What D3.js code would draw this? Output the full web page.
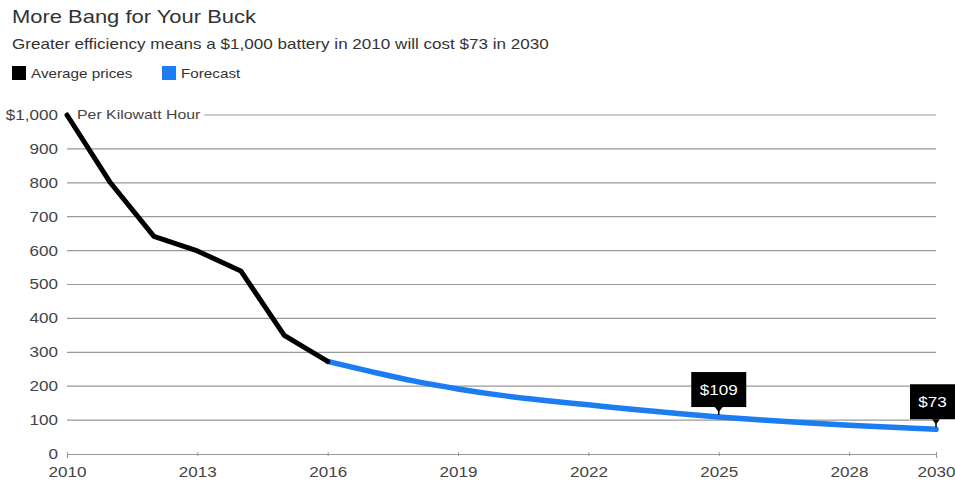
<!DOCTYPE html>
<html>
<head>
<meta charset="utf-8">
<script src="https://cdn.jsdelivr.net/npm/d3@7"></script>
<style>
  html, body { margin: 0; padding: 0; background: #fff; }
  svg { display: block; font-family: "Liberation Sans", Arial, sans-serif; }
</style>
</head>
<body>
<svg id="chart" width="955" height="481"></svg>
<script>
// Battery pack price, US$ per kWh
const histYears   = [2010, 2011, 2012, 2013, 2014, 2015, 2016];
const histPrices  = [1000, 800, 642, 599, 540, 350, 273];
const fcstYears   = [2016, 2017, 2018, 2019, 2020, 2021, 2022, 2023, 2024, 2025, 2026, 2027, 2028, 2029, 2030];
const fcstPrices  = [273, 243, 215, 192, 173, 158, 145, 132, 120, 109, 100, 92, 85, 79, 73];
const xTickYears  = [2010, 2013, 2016, 2019, 2022, 2025, 2028, 2030];
const yTickValues = [0, 100, 200, 300, 400, 500, 600, 700, 800, 900, 1000];
const callouts    = [{ year: 2025, value: 109 }, { year: 2030, value: 73 }];

const svg = d3.select("#chart");
const plotLeft = 67, plotRight = 936, plotTop = 115, plotBottom = 454;
const textStretch = 1.22;   // wide grotesque look: stretch glyphs horizontally
const blue = "#1c7cf2";

const x = d3.scaleLinear().domain([2010, 2030]).range([plotLeft, plotRight]);
const y = d3.scaleLinear().domain([0, 1000]).range([plotBottom, plotTop]);

// Title block
svg.append("text").attr("x", 12).attr("y", 23)
  .attr("font-size", 18).attr("fill", "#333").text("More Bang for Your Buck");
svg.append("text").attr("x", 12).attr("y", 49)
  .attr("font-size", 14).attr("fill", "#333")
  .text("Greater efficiency means a $1,000 battery in 2010 will cost $73 in 2030");

// Legend
const legend = [
  { label: "Average prices", color: "#000", x: 12 },
  { label: "Forecast", color: blue, x: 162 }
];
legend.forEach(d => {
  svg.append("rect").attr("x", d.x).attr("y", 66).attr("width", 14).attr("height", 14).attr("fill", d.color);
  svg.append("text").attr("x", d.x + 19).attr("y", 78)
    .attr("font-size", 12.5).attr("fill", "#333").text(d.label);
});

// Gridlines and y labels
const grid = svg.append("g");
yTickValues.filter(v => v > 0).forEach(v => {
  grid.append("line")
    .attr("x1", v === 1000 ? 204 : plotLeft).attr("x2", plotRight)
    .attr("y1", y(v)).attr("y2", y(v))
    .attr("stroke", "#999").attr("stroke-width", 1.2);
});
svg.append("text").attr("x", 77).attr("y", y(1000) + 4.5)
  .attr("font-size", 13).attr("fill", "#444").text("Per Kilowatt Hour");

const yAxis = svg.append("g")
  .call(d3.axisLeft(y).tickValues(yTickValues).tickSize(0).tickPadding(0)
    .tickFormat(v => v === 1000 ? "$1,000" : d3.format("d")(v)));
yAxis.attr("transform", `translate(${plotLeft - 9},0)`);
yAxis.select(".domain").remove();
yAxis.selectAll("text").attr("font-size", 14).attr("fill", "#444")
  .attr("font-family", "Liberation Sans, Arial, sans-serif");

// X axis along the zero line
const xAxis = svg.append("g").attr("transform", `translate(0,${plotBottom})`)
  .call(d3.axisBottom(x).tickValues(xTickYears).tickFormat(d3.format("d")).tickSize(4).tickPadding(19));
xAxis.select(".domain").attr("stroke", "#999").attr("stroke-width", 1.2);
xAxis.selectAll(".tick line").attr("stroke", "#999").attr("transform", "translate(0,-2)");
xAxis.selectAll("text").attr("font-size", 14).attr("fill", "#444").attr("dy", null)
  .attr("font-family", "Liberation Sans, Arial, sans-serif");

// Lines
const curved = d3.line().x(d => x(d[0])).y(d => y(d[1])).curve(d3.curveMonotoneX);
svg.append("path")
  .datum(fcstYears.map((yr, i) => [yr, fcstPrices[i]]))
  .attr("d", curved).attr("fill", "none")
  .attr("stroke", blue).attr("stroke-width", 5.5).attr("stroke-linecap", "round");
svg.append("path")
  .datum(histYears.map((yr, i) => [yr, histPrices[i]]))
  .attr("d", d3.line().x(d => x(d[0])).y(d => y(d[1])))
  .attr("fill", "none").attr("stroke", "#000").attr("stroke-width", 5)
  .attr("stroke-linejoin", "round").attr("stroke-linecap", "round");

// Value callouts
callouts.forEach(c => {
  const cx = x(c.year), cy = y(c.value);
  const g = svg.append("g");
  const label = "$" + c.value;
  const boxW = 55, boxH = 35;
  const boxBottom = cy - 10;
  let bx = cx - boxW / 2;
  if (bx + boxW > 955) bx = cx - 26;
  const visibleW = Math.min(boxW, 955 - bx);
  g.append("rect").attr("x", bx).attr("y", boxBottom - boxH)
    .attr("width", boxW).attr("height", boxH).attr("fill", "#000");
  g.append("path")
    .attr("d", `M${cx - 4},${boxBottom} L${cx},${boxBottom + 5} L${cx + 4},${boxBottom} Z`)
    .attr("fill", "#000");
  g.append("line").attr("x1", cx).attr("x2", cx).attr("y1", boxBottom).attr("y2", cy - 2)
    .attr("stroke", "#000").attr("stroke-width", 1.5);
  g.append("text").attr("x", bx + visibleW / 2).attr("y", boxBottom - boxH / 2 + 5)
    .attr("text-anchor", "middle").attr("font-size", 14).attr("fill", "#fff").text(label);
});

// Widen every label about its anchor point
svg.selectAll("text").each(function () {
  const t = d3.select(this);
  const ax = +t.attr("x") || 0;
  t.attr("transform", `translate(${ax},0) scale(${textStretch},1) translate(${-ax},0)`);
});
</script>
</body>
</html>
